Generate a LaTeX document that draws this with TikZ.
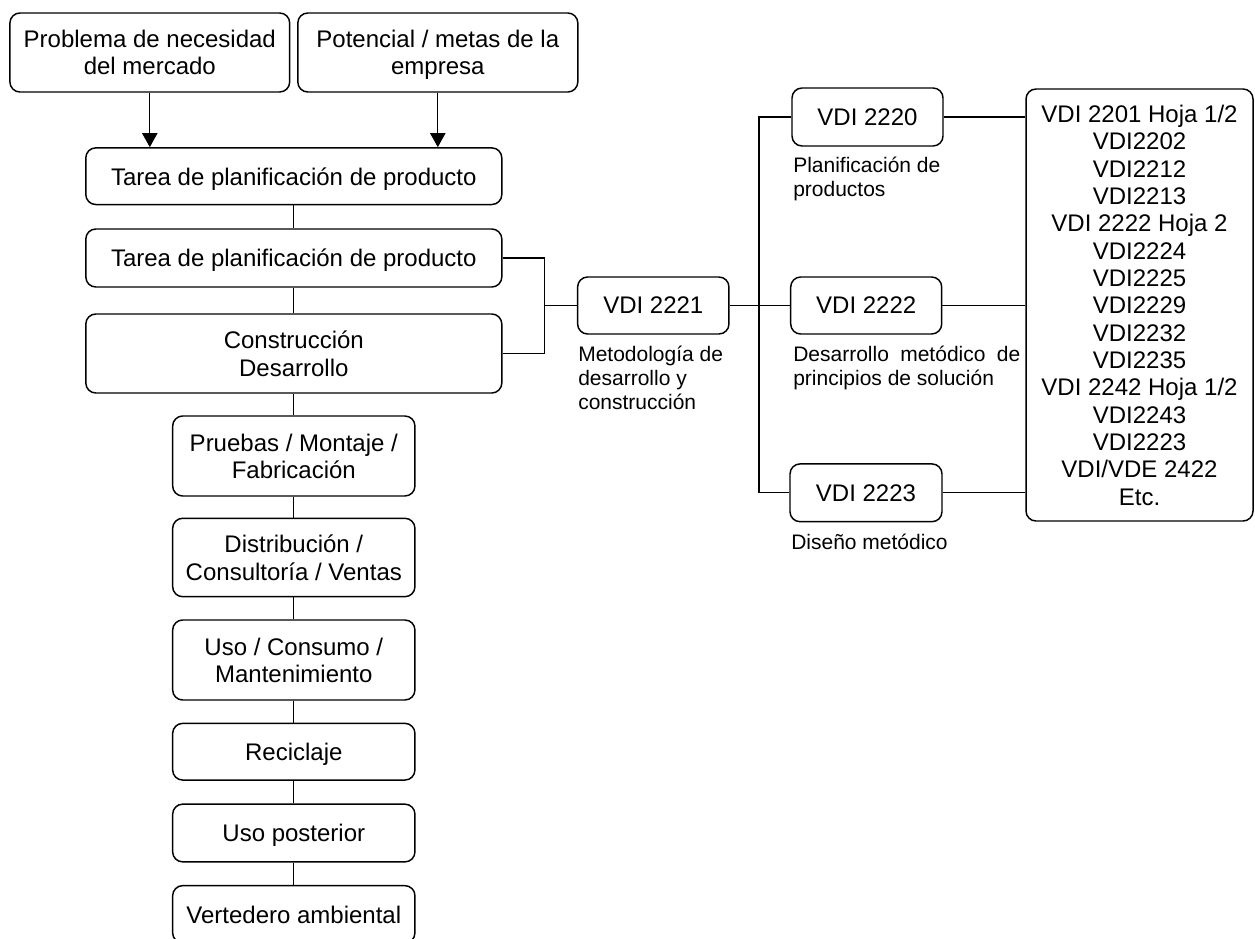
\documentclass[tikz,border=0pt]{standalone}
\usepackage{fontspec}
\setmainfont{Liberation Sans}
\usetikzlibrary{arrows.meta}

\begin{document}
\begin{tikzpicture}[x=0.75pt,y=-0.75pt,
  box/.style={draw, line width=1.1pt, rounded corners=7.5pt, align=center,
    inner sep=0pt, text depth=0pt, font=\fontsize{18}{20.5}\selectfont},
  link/.style={draw, line width=0.8pt},
  arr/.style={link, -{Triangle[width=11.5pt,length=10.5pt]}},
  note/.style={anchor=north west, inner sep=0pt, align=left,
    font=\fontsize{15.75}{18}\selectfont}]
\useasboundingbox (0,0) rectangle (1255,938);
\clip (0,0) rectangle (1255,938);

% --- inputs ---
\node[box, minimum width=209.8pt, minimum height=59.25pt] (prob) at (149.8,52.5)
  {Problema de necesidad\\del mercado};
\node[box, minimum width=210pt, minimum height=59.25pt] (pot) at (437.8,52.5)
  {Potencial / metas de la\\empresa};

% --- main life-cycle chain ---
\node[box, minimum width=312pt, minimum height=42.5pt] (tarea1) at (293.8,176.2)
  {Tarea de planificación de producto};
\node[box, minimum width=312pt, minimum height=43.5pt] (tarea2) at (293.8,258)
  {Tarea de planificación de producto};
\node[box, minimum width=312pt, minimum height=59.25pt] (constr) at (293.8,353.5)
  {Construcción\\Desarrollo};
\node[box, minimum width=181.7pt, minimum height=60pt] (pruebas) at (293.8,456)
  {Pruebas / Montaje /\\Fabricación};
\node[box, minimum width=181.7pt, minimum height=58.8pt] (distrib) at (293.8,557.5)
  {Distribución /\\Consultoría / Ventas};
\node[box, minimum width=181.7pt, minimum height=60pt] (uso) at (293.8,660)
  {Uso / Consumo /\\Mantenimiento};
\node[box, minimum width=181.7pt, minimum height=42.5pt] (recic) at (293.8,751.7)
  {Reciclaje};
\node[box, minimum width=181.7pt, minimum height=43.3pt] (post) at (293.8,833)
  {Uso posterior};
\node[box, minimum width=181.7pt, minimum height=43pt] (verted) at (293.8,914.3)
  {Vertedero ambiental};

% --- VDI guidelines ---
\node[box, minimum width=113.5pt, minimum height=42.75pt] (v2221) at (653.3,305.5) {VDI 2221};
\node[box, minimum width=113.25pt, minimum height=43.5pt] (v2220) at (867.5,117) {VDI 2220};
\node[box, minimum width=113.25pt, minimum height=42.75pt] (v2222) at (866.2,305.5) {VDI 2222};
\node[box, minimum width=114pt, minimum height=43.3pt] (v2223) at (866,492.8) {VDI 2223};
\node[box, minimum width=170.25pt, minimum height=324pt] (list) at (1139.5,305)
  {VDI 2201 Hoja 1/2\\VDI2202\\VDI2212\\VDI2213\\VDI 2222 Hoja 2\\VDI2224\\VDI2225\\VDI2229\\VDI2232\\VDI2235\\VDI 2242 Hoja 1/2\\VDI2243\\VDI2223\\VDI/VDE 2422\\Etc.};

% --- captions ---
\node[note] (c2221) at (578,345.5) {Metodología de\\desarrollo y\\construcción};
\node[note] (c2220) at (793,157) {Planificación de\\productos};
\node[note] (c2222) at (793,345.5)
  {\makebox[170.25pt][s]{Desarrollo metódico de}\\principios de solución};
\node[note] (c2223) at (791,533.5) {Diseño metódico};

% --- connectors ---
\draw[arr] (prob.south) -- (prob.south |- tarea1.north);
\draw[arr] (pot.south) -- (pot.south |- tarea1.north);

\draw[link] (tarea1.south) -- (tarea2.north);
\draw[link] (tarea2.south) -- (constr.north);
\draw[link] (constr.south) -- (pruebas.north);
\draw[link] (pruebas.south) -- (distrib.north);
\draw[link] (distrib.south) -- (uso.north);
\draw[link] (uso.south) -- (recic.north);
\draw[link] (recic.south) -- (post.north);
\draw[link] (post.south) -- (verted.north);

\coordinate (bk) at (544.7,305.5);
\draw[link] (tarea2.east) -| (bk) |- (constr.east);
\draw[link] (bk) -- (v2221.west);

\coordinate (sp) at (759,305.5);
\draw[link] (v2221.east) -- (v2222.west);
\draw[link] (v2220.west) -| (sp) |- (v2223.west);

\draw[link] (v2220.east) -- (v2220.east -| list.west);
\draw[link] (v2222.east) -- (v2222.east -| list.west);
\draw[link] (v2223.east) -- (v2223.east -| list.west);
\end{tikzpicture}
\end{document}
